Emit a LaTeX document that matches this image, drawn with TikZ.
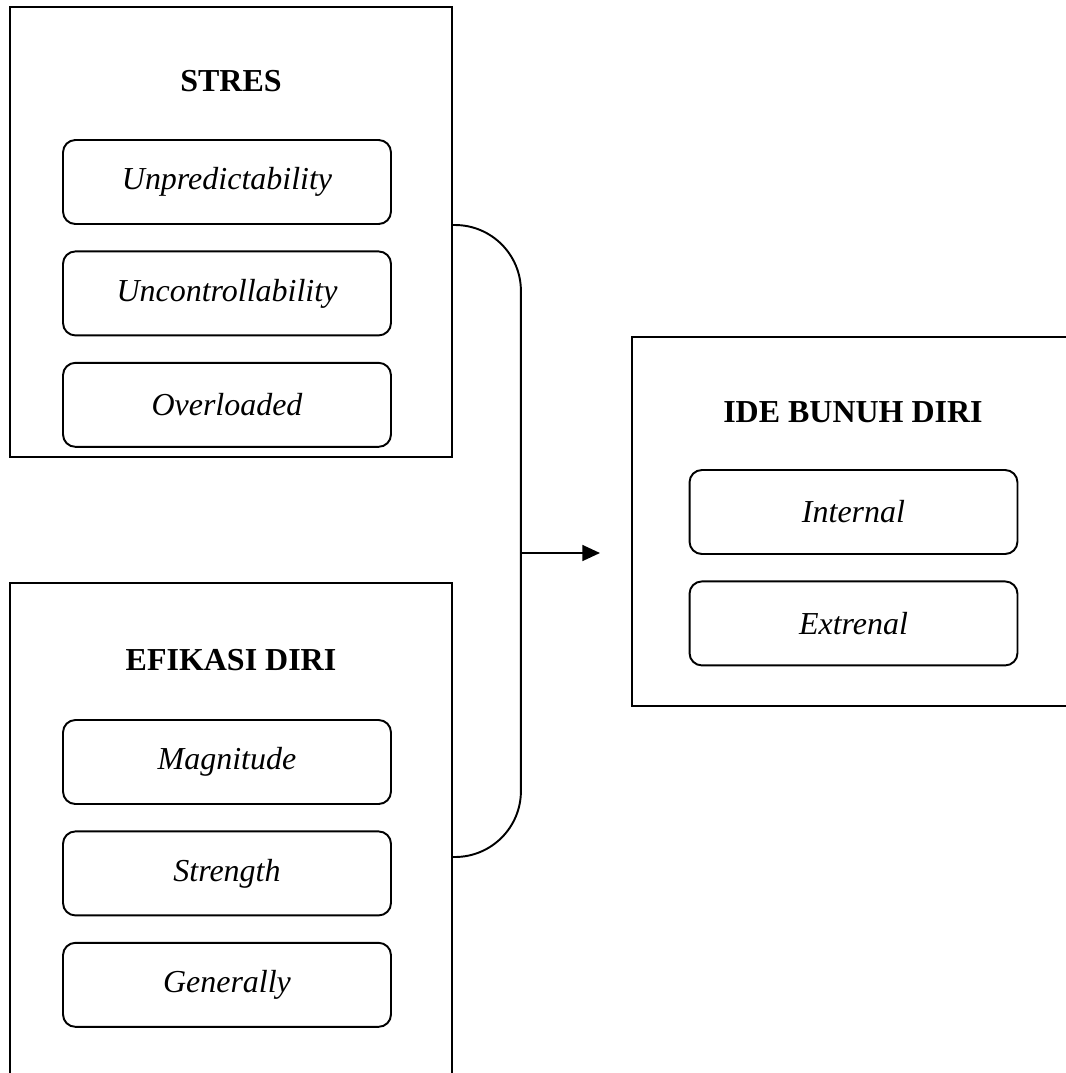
\documentclass[tikz,border=0pt]{standalone}
\usepackage{fontspec}
\setmainfont{Liberation Serif}
\usetikzlibrary{arrows.meta,positioning}

\begin{document}
\begin{tikzpicture}[x=0.02cm,y=-0.02cm,line width=1.1pt,node distance=0.51cm,
                    frame/.style={draw,rectangle,minimum width=8.84cm,inner sep=0pt},
                    title/.style={font=\fontsize{18.2}{22}\selectfont\bfseries},
                    item/.style={draw,rounded corners=7pt,minimum width=6.56cm,
                                 minimum height=1.68cm,font=\fontsize{18.2}{22}\selectfont\itshape}]

  \useasboundingbox (0,0) rectangle (1066,1073);
  \clip (0,0) rectangle (1066,1073);

  \node[frame,minimum height=9cm] (stres) at (231,232) {};
  \node[title] (stres title) at (231,81) {STRES};
  \node[item] (unpred) at (227,182) {Unpredictability};
  \node[item] (uncontr) [below=of unpred] {Uncontrollability};
  \node[item] (overl) [below=of uncontr] {Overloaded};

  \node[frame,minimum height=10.96cm] (efikasi) at (231,857) {};
  \node[title] (efikasi title) at (231,660) {EFIKASI DIRI};
  \node[item] (magn) at (227,762) {Magnitude};
  \node[item] (strength) [below=of magn] {Strength};
  \node[item] (gen) [below=of strength] {Generally};

  \node[frame,minimum width=8.86cm,minimum height=7.38cm] (ide) at (853.5,521.5) {};
  \node[title] (ide title) at (853,412) {IDE BUNUH DIRI};
  \node[item] (internal) at (853.5,512) {Internal};
  \node[item] (extrenal) [below=of internal] {Extrenal};

  \draw[rounded corners=1.32cm] ([yshift=0.14cm]stres.east) -- ++(68,0) |- (efikasi.east);
  \coordinate (join) at (520,553);
  \coordinate (tip) at (600,553);
  \draw[-{Triangle[length=10pt,width=9pt]}] (join) -- (tip);
\end{tikzpicture}
\end{document}
